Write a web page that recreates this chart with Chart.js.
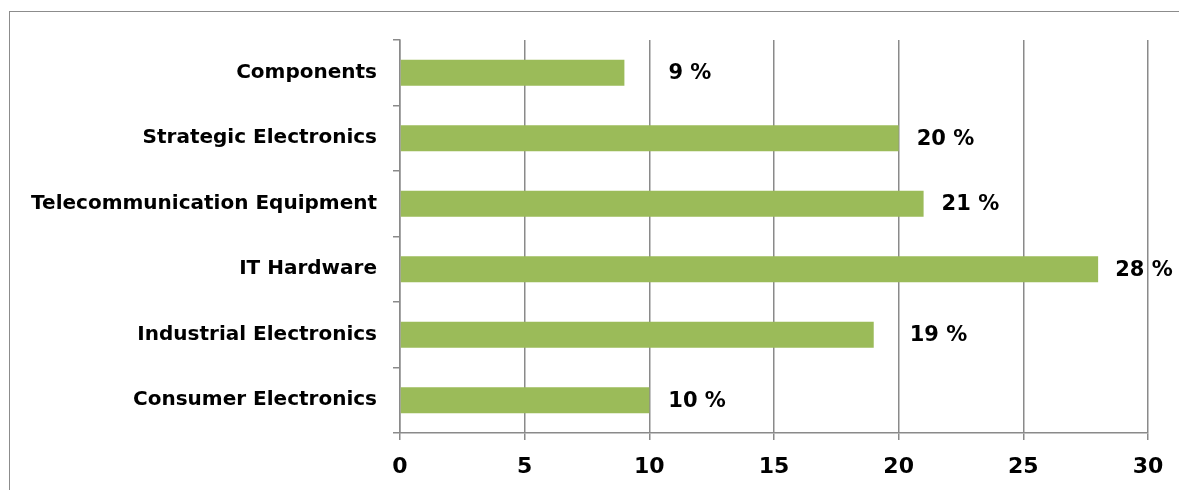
<!DOCTYPE html>
<html>
<head>
<meta charset="utf-8">
<script src="https://cdn.jsdelivr.net/npm/chart.js@4/dist/chart.umd.min.js"></script>
<style>
  html, body { margin: 0; padding: 0; background: #fff; overflow: hidden; }
  #wrap { position: relative; width: 1179px; height: 490px; }
  #frame { position: absolute; left: 9px; top: 11px; width: 1300px; height: 600px;
           border-left: 1px solid #8c8c8c; border-top: 1px solid #8c8c8c; }
  canvas { position: absolute; left: 0; top: 0; }
</style>
</head>
<body>
<div id="wrap">
  <div id="frame"></div>
  <canvas id="chartSegments" width="1179" height="490"></canvas>
</div>
<script>
const segments = ["Components", "Strategic Electronics", "Telecommunication Equipment",
                  "IT Hardware", "Industrial Electronics", "Consumer Electronics"];
const shares = [9, 20, 21, 28, 19, 10];
const xTicks = [0, 5, 10, 15, 20, 25, 30];

// how far each value label sits past the end of its bar (px)
const labelGap = [44, 18, 18, 17, 36, 19];

const FONT = "'DejaVu Sans', sans-serif";
const GRID = "#8a8a8a";

const valueLabels = {
    id: "valueLabels",
    afterDatasetsDraw(chart) {
        const ctx = chart.ctx;
        const meta = chart.getDatasetMeta(0);
        ctx.save();
        ctx.font = "bold 21px " + FONT;
        ctx.fillStyle = "#000";
        ctx.textBaseline = "middle";
        ctx.textAlign = "left";
        meta.data.forEach(function(bar, i) {
            ctx.fillText(shares[i] + " %", bar.x + labelGap[i], bar.y + 1);
        });
        ctx.restore();
    }
};

new Chart(document.getElementById("chartSegments"), {
    type: "bar",
    data: {
        labels: segments,
        datasets: [{
            data: shares,
            backgroundColor: "#9bbb59",
            borderWidth: 0,
            categoryPercentage: 1,
            barPercentage: 0.4
        }]
    },
    options: {
        indexAxis: "y",
        responsive: false,
        animation: false,
        layout: { padding: { top: 40, right: 31, left: 10, bottom: 0 } },
        plugins: { legend: { display: false }, tooltip: { enabled: false } },
        scales: {
            x: {
                min: 0,
                max: 30,
                afterBuildTicks: function(s) { s.ticks = xTicks.map(v => ({ value: v })); },
                afterFit: function(s) { s.height = 57; },
                grid: { color: GRID, lineWidth: 1.5, tickLength: 7, drawTicks: true },
                border: { color: GRID, width: 1.5 },
                ticks: { color: "#000", padding: 14, font: { family: FONT, size: 22, weight: "bold" } }
            },
            y: {
                afterFit: function(s) { s.width = 390; },
                grid: { drawOnChartArea: false, color: GRID, lineWidth: 1.5, tickLength: 7 },
                border: { color: GRID, width: 1.5 },
                ticks: { color: "#000", padding: 16, font: { family: FONT, size: 20, weight: "bold" } }
            }
        }
    },
    plugins: [valueLabels]
});
</script>
</body>
</html>
